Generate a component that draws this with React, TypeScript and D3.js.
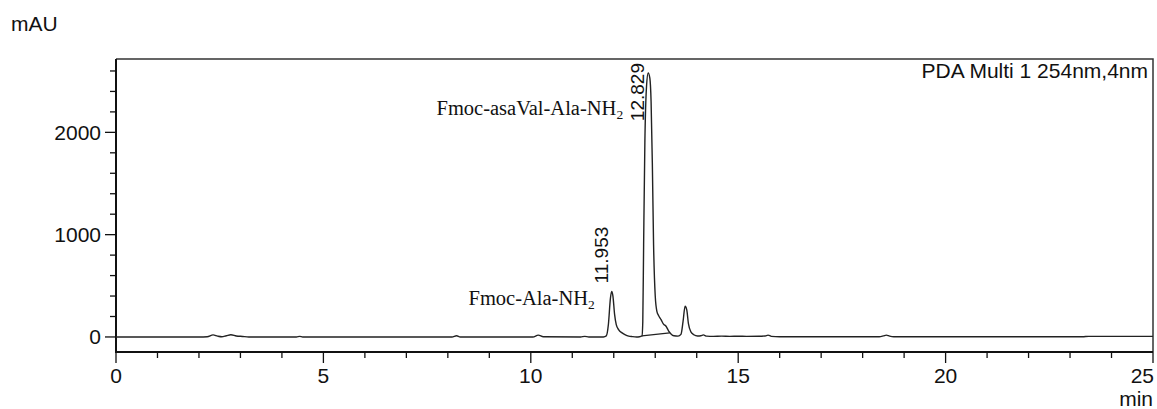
import React, { useEffect, useRef } from 'react';
import * as d3 from 'd3';

// chromatogram trace (min, mAU)
const times = [
  0, 2.0, 2.2, 2.34, 2.45, 2.55, 2.66, 2.77, 2.9, 3.05, 3.2,
  4.35, 4.43, 4.5, 8.1, 8.21, 8.3, 10.05, 10.18, 10.3, 11.2, 11.3, 11.4,
  11.75, 11.82, 11.87, 11.92, 11.95, 11.98, 12.02, 12.06, 12.12, 12.2, 12.28, 12.36, 12.45, 12.55,
  12.62, 12.68, 12.7, 12.72, 12.75, 12.79, 12.83, 12.87, 12.9, 12.93, 12.96, 13.0,
  13.04, 13.08, 13.14, 13.2, 13.26, 13.32, 13.38, 13.45, 13.55,
  13.62, 13.67, 13.72, 13.76, 13.8, 13.86, 13.93, 14.02, 14.1, 14.16, 14.24,
  14.4, 14.6, 14.8, 15.0, 15.2, 15.5, 15.65, 15.72, 15.8, 16.0,
  18.4, 18.5, 18.57, 18.65, 18.75, 23.3, 23.45, 25
];
const mAU = [
  0, 0, 2, 20, 8, 2, 12, 22, 10, 5, 0,
  0, 6, 0, 0, 12, 0, 0, 18, 2, 0, 6, 0,
  0, 10, 120, 380, 445, 400, 220, 120, 70, 40, 20, 8, 3, 0,
  2, 10, 150, 900, 1900, 2450, 2580, 2530, 2300, 1700, 900, 400,
  250, 210, 170, 125, 105, 60, 30, 12, 8,
  25, 150, 300, 265, 130, 50, 22, 10, 12, 20, 8,
  6, 8, 6, 7, 6, 7, 10, 18, 6, 2,
  2, 10, 18, 8, 2, 2, 6, 6
];

// integration baseline under the main peak
const baseTimes = [12.68, 13.35];
const baseMAU = [10, 40];

const peakTimes = [11.953, 12.829];
const peakLabels = ['11.953', '12.829'];
const peakHeights = [445, 2580];

const compounds = ['Fmoc-Ala-NH', 'Fmoc-asaVal-Ala-NH'];

const xTicksMajor = [0, 5, 10, 15, 20, 25];
const yTicksMajor = [0, 1000, 2000];

const W = 1157, H = 409;

export default function App() {
  const ref = useRef<SVGSVGElement>(null);

  useEffect(() => {
    const svg = d3.select(ref.current);
    svg.selectAll('*').remove();

    const left = 116, right = 1153, top = 59, bottom = 352;
    const x = d3.scaleLinear().domain([0, 25]).range([left, right]);
    const y = d3.scaleLinear().domain([-147, 2717]).range([bottom, top]);
    const font = 'Liberation Sans, Arial, sans-serif';
    const ink = '#111';

    // frame top/right
    svg.append('path')
      .attr('d', `M${left},${top}H${right}V${bottom}`)
      .attr('fill', 'none').attr('stroke', '#333').attr('stroke-width', 1.5);

    // y axis
    const yAxis = svg.append('g').attr('transform', `translate(${left},0)`);
    yAxis.append('line').attr('y1', top).attr('y2', bottom + 1).attr('stroke', ink).attr('stroke-width', 2);
    d3.range(0, 2700, 200).forEach(v => {
      const major = yTicksMajor.includes(v);
      yAxis.append('line')
        .attr('x1', major ? -11 : -6).attr('x2', 0)
        .attr('y1', y(v)).attr('y2', y(v))
        .attr('stroke', ink).attr('stroke-width', 1.3);
    });
    yTicksMajor.forEach(v => {
      yAxis.append('text')
        .attr('x', -15).attr('y', y(v) + 7.5)
        .attr('text-anchor', 'end')
        .attr('font-family', font).attr('font-size', 21).attr('fill', ink)
        .text(v);
    });

    // x axis
    const xAxis = svg.append('g').attr('transform', `translate(0,${bottom})`);
    xAxis.append('line').attr('x1', left - 1).attr('x2', right).attr('stroke', ink).attr('stroke-width', 2);
    d3.range(0, 26, 1).forEach(t => {
      const major = xTicksMajor.includes(t);
      xAxis.append('line')
        .attr('x1', x(t)).attr('x2', x(t))
        .attr('y1', 0).attr('y2', major ? 11 : 6)
        .attr('stroke', ink).attr('stroke-width', 1.3);
    });
    xTicksMajor.forEach(t => {
      xAxis.append('text')
        .attr('x', x(t)).attr('y', 31)
        .attr('text-anchor', t === 25 ? 'end' : 'middle')
        .attr('dx', t === 25 ? 1 : 0)
        .attr('font-family', font).attr('font-size', 21).attr('fill', ink)
        .text(t);
    });

    svg.append('text').attr('x', 11).attr('y', 31)
      .attr('font-family', font).attr('font-size', 21).attr('fill', ink).text('mAU');
    svg.append('text').attr('x', right).attr('y', 406).attr('text-anchor', 'end')
      .attr('font-family', font).attr('font-size', 21).attr('fill', ink).text('min');
    svg.append('text').attr('x', right - 5).attr('y', 78).attr('text-anchor', 'end')
      .attr('font-family', font).attr('font-size', 21).attr('fill', ink).text('PDA Multi 1 254nm,4nm');

    // trace
    const pts = times.map((t, i) => [t, mAU[i]] as [number, number]);
    const line = d3.line<[number, number]>()
      .x(d => x(d[0])).y(d => y(d[1]))
      .curve(d3.curveMonotoneX);
    svg.append('path').datum(pts)
      .attr('d', line)
      .attr('fill', 'none').attr('stroke', '#222').attr('stroke-width', 1.4);

    const base = baseTimes.map((t, i) => [t, baseMAU[i]] as [number, number]);
    svg.append('path').datum(base)
      .attr('d', d3.line<[number, number]>().x(d => x(d[0])).y(d => y(d[1])))
      .attr('fill', 'none').attr('stroke', '#222').attr('stroke-width', 1.2);

    // retention time labels, kept inside the frame
    peakTimes.forEach((t, i) => {
      const lbl = svg.append('text')
        .attr('font-family', font).attr('font-size', 19).attr('fill', ink)
        .text(peakLabels[i]);
      const len = (lbl.node() as SVGTextElement).getComputedTextLength();
      const px = x(t) - 4;
      let py = y(peakHeights[i]) - 8;
      if (py - len < top + 4) py = top + 4 + len;
      lbl.attr('transform', `translate(${px},${py}) rotate(-90)`);
    });

    // compound names
    const names = [
      { t: 11.953, v: 445, dy: 14 },
      { t: 12.829, v: 2580, dy: 42 },
    ];
    names.forEach((n, i) => {
      const tx = svg.append('text')
        .attr('x', x(n.t) - (i === 0 ? 17 : 25)).attr('y', y(n.v) + n.dy)
        .attr('text-anchor', 'end')
        .attr('font-family', 'Liberation Serif, Times New Roman, serif')
        .attr('font-size', 20.5).attr('fill', ink);
      tx.append('tspan').text(compounds[i]);
      tx.append('tspan').attr('font-size', 13.5).attr('dy', 4).text('2');
    });
  }, []);

  return (
    <svg ref={ref} width={W} height={H}
      style={{ position: 'absolute', left: 0, top: 0, background: '#fff' }} />
  );
}
